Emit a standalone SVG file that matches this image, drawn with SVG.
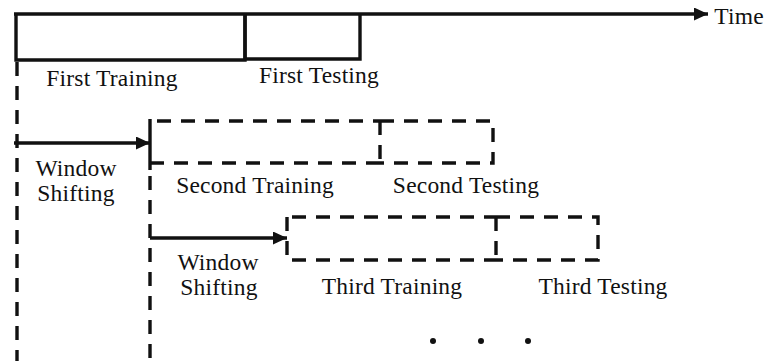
<svg xmlns="http://www.w3.org/2000/svg" width="772" height="361" viewBox="0 0 772 361">
  <defs>
    <marker id="ah" markerUnits="userSpaceOnUse" markerWidth="15" markerHeight="13" refX="14" refY="6.5" orient="auto">
      <path d="M0,0 L14,6.5 L0,13 z" fill="#111"/>
    </marker>
    <style>
      .solid { fill: none; stroke: #111; stroke-width: 3.4; }
      .dash { fill: none; stroke: #111; stroke-width: 3.4; stroke-dasharray: 14 10; }
      .arrow { fill: none; stroke: #111; stroke-width: 3.4; marker-end: url(#ah); }
      text { font-family: "Liberation Serif", "Times New Roman", serif; font-size: 23.5px; fill: #111; text-anchor: middle; letter-spacing: 0.2px; }
    </style>
  </defs>
  <rect width="772" height="361" fill="#fff"/>

  <g id="time-axis">
    <line class="arrow" x1="14" y1="14" x2="708" y2="14"/>
    <text x="739" y="24">Time</text>
  </g>

  <g id="first-training">
    <path class="solid" d="M16,14 V60 H245 V14"/>
    <text x="112" y="86">First Training</text>
  </g>
  <g id="first-testing">
    <path class="solid" d="M245,14 V59 H360 V14"/>
    <text x="319" y="83">First Testing</text>
  </g>

  <g id="second-training">
    <line class="solid" x1="150" y1="119" x2="150" y2="170"/>
    <path class="dash" d="M157,121 H380 M150,163 H380"/>
    <text x="255" y="193">Second Training</text>
  </g>
  <g id="second-testing">
    <path class="dash" d="M380,121 H493 V163 H380 M380,121 V163"/>
    <text x="466" y="193">Second Testing</text>
  </g>

  <g id="third-training">
    <path class="dash" d="M287,217 V261 M292,217 H496 M292,260 H496"/>
    <text x="392" y="294">Third Training</text>
  </g>
  <g id="third-testing">
    <path class="dash" d="M496,217 H598 V260 H496 M496,217 V260"/>
    <text x="603" y="294">Third Testing</text>
  </g>

  <g id="window-shifting-1">
    <text x="76" y="176">Window</text>
    <text x="76" y="201">Shifting</text>
  </g>
  <g id="window-shifting-2">
    <text x="218" y="270">Window</text>
    <text x="219" y="295">Shifting</text>
  </g>

  <g id="ellipsis">
    <circle cx="433" cy="341" r="3" fill="#111"/>
    <circle cx="481" cy="341" r="3" fill="#111"/>
    <circle cx="528" cy="341" r="3" fill="#111"/>
  </g>

  <g id="connectors">
    <line class="dash" x1="17" y1="62" x2="17" y2="361"/>
    <line class="dash" x1="150" y1="176" x2="150" y2="361"/>
    <line class="arrow" x1="14" y1="143" x2="150" y2="143"/>
    <line class="arrow" x1="150" y1="238" x2="287" y2="238"/>
  </g>
</svg>
